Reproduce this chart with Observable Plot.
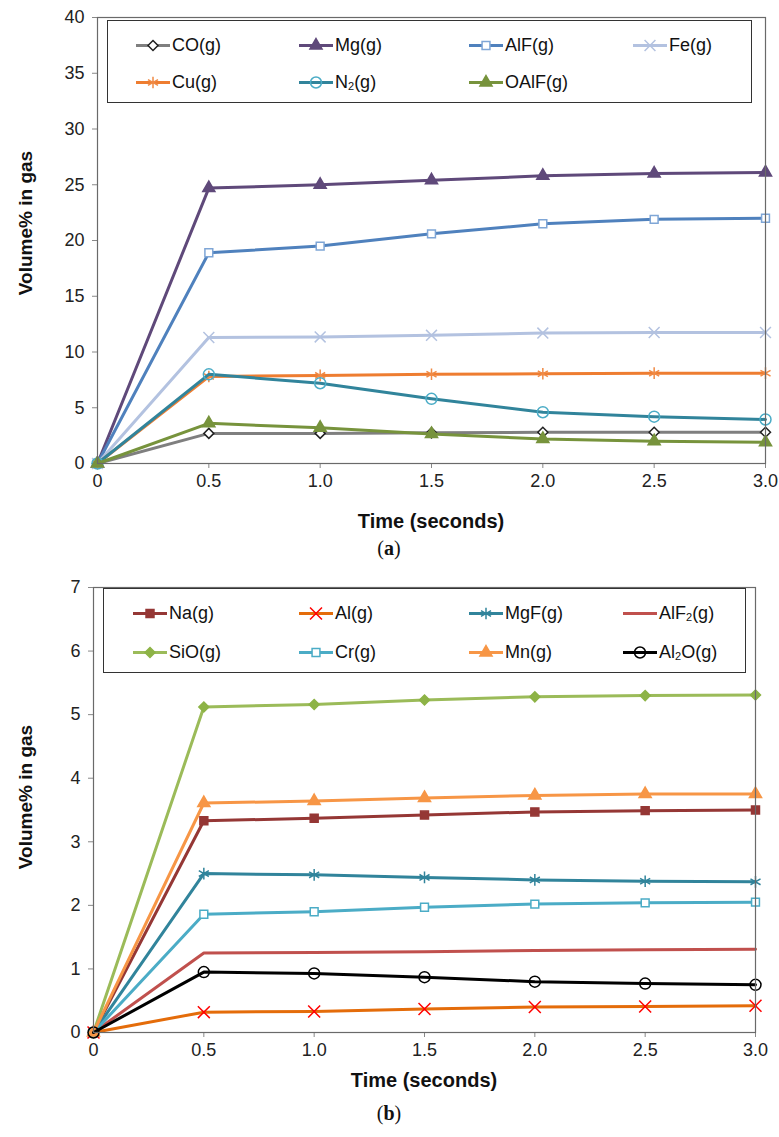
<!DOCTYPE html>
<html><head><meta charset="utf-8">
<script src="https://cdn.jsdelivr.net/npm/d3@7"></script>
<script src="https://cdn.jsdelivr.net/npm/@observablehq/plot@0.6"></script>
<style>
body{margin:0;background:#fff;font-family:"Liberation Sans",Arial,sans-serif;}
#page{position:relative;width:779px;height:1137px;overflow:hidden;background:#fff;}
.xt{position:absolute;font-weight:bold;font-size:20px;color:#111;transform:translate(-50%,-50%);white-space:nowrap;}
.yt{position:absolute;font-weight:bold;font-size:19px;color:#111;transform:translate(-50%,-50%) rotate(-90deg);white-space:nowrap;}
.cap{position:absolute;font-family:"Liberation Serif","DejaVu Serif",serif;font-size:20px;color:#111;transform:translate(-50%,-50%);}
.legend{position:absolute;border:1.5px solid #333;background:#fff;box-sizing:border-box;}
.item{position:absolute;display:flex;align-items:center;font-size:18px;color:#111;white-space:nowrap;transform:translateY(-50%);}
.item svg{margin-right:1px;}
sub{font-size:11px;vertical-align:-2px;}
svg.plot g[aria-label="x-axis tick"] path, svg.plot g[aria-label="y-axis tick"] path{stroke:#888;}
</style>
</head><body><div id="page"></div>
<script>
// ---------- data ----------
const times = [0, 0.5, 1.0, 1.5, 2.0, 2.5, 3.0];
const xTickLabels = ["0", "0.5", "1.0", "1.5", "2.0", "2.5", "3.0"];
const yTicksA = [0, 5, 10, 15, 20, 25, 30, 35, 40];
const yTicksB = [0, 1, 2, 3, 4, 5, 6, 7];

// chart (a)
const namesA = ["CO(g)", "Mg(g)", "AlF(g)", "Fe(g)", "Cu(g)", "N<sub>2</sub>(g)", "OAlF(g)"];
const CO   = [0, 2.7, 2.7, 2.75, 2.8, 2.8, 2.8];
const Mg   = [0, 24.7, 25.0, 25.4, 25.8, 26.0, 26.1];
const AlF  = [0, 18.9, 19.5, 20.6, 21.5, 21.9, 22.0];
const Fe   = [0, 11.3, 11.35, 11.5, 11.7, 11.75, 11.75];
const Cu   = [0, 7.8, 7.9, 8.0, 8.05, 8.1, 8.1];
const N2   = [0, 8.0, 7.2, 5.8, 4.6, 4.2, 3.95];
const OAlF = [0, 3.6, 3.2, 2.65, 2.2, 2.0, 1.9];

// chart (b)
const namesB = ["Na(g)", "Al(g)", "MgF(g)", "AlF<sub>2</sub>(g)", "SiO(g)", "Cr(g)", "Mn(g)", "Al<sub>2</sub>O(g)"];
const Na   = [0, 3.33, 3.37, 3.42, 3.47, 3.49, 3.50];
const Al   = [0, 0.32, 0.33, 0.37, 0.40, 0.41, 0.42];
const MgF  = [0, 2.50, 2.48, 2.44, 2.40, 2.38, 2.37];
const AlF2 = [0, 1.25, 1.26, 1.27, 1.29, 1.30, 1.31];
const SiO  = [0, 5.12, 5.16, 5.23, 5.28, 5.30, 5.31];
const Cr   = [0, 1.86, 1.90, 1.97, 2.02, 2.04, 2.05];
const Mn   = [0, 3.61, 3.64, 3.69, 3.73, 3.75, 3.75];
const Al2O = [0, 0.95, 0.93, 0.87, 0.80, 0.77, 0.75];

// ---------- styles ----------
const stylesA = [
  {line:"#7f7f7f", symbol:"diamond2", fill:"#fff", stroke:"#222", r:4.5},
  {line:"#5f497a", symbol:"triangle", fill:"#5f497a", stroke:"#5f497a", r:4.5},
  {line:"#4f81bd", symbol:"square2", fill:"#fff", stroke:"#7fa6d6", r:5},
  {line:"#b3c2e0", symbol:"times", fill:"none", stroke:"#b3c2e0", r:5},
  {line:"#ee7d31", symbol:"asterisk", fill:"none", stroke:"#f08a45", r:5.5},
  {line:"#31849b", symbol:"circle", fill:"none", stroke:"#4bacc6", r:5.5},
  {line:"#77933c", symbol:"triangle", fill:"#77933c", stroke:"#77933c", r:4.5}
];
const stylesB = [
  {line:"#953735", symbol:"square", fill:"#953735", stroke:"#953735", r:4.5},
  {line:"#e46c0a", symbol:"times", fill:"none", stroke:"#ff0000", r:5.5},
  {line:"#31849b", symbol:"asterisk", fill:"none", stroke:"#31849b", r:5.5},
  {line:"#c0504d", symbol:null},
  {line:"#9bbb59", symbol:"diamond2", fill:"#8db346", stroke:"#8db346", r:4.5},
  {line:"#4bacc6", symbol:"square2", fill:"#fff", stroke:"#4bacc6", r:5},
  {line:"#f79646", symbol:"triangle", fill:"#f79646", stroke:"#f79646", r:4.5},
  {line:"#000000", symbol:"circle", fill:"none", stroke:"#000", r:5.5}
];

const page = document.getElementById("page");

function makeChart({values, styles, yDomain, yTicks, top, height, ml, mr, mt, mb}) {
  const marks = [];
  values.forEach((vals, k) => {
    const s = styles[k];
    const rows = times.map((t, i) => ({t, v: vals[i]}));
    marks.push(Plot.line(rows, {x:"t", y:"v", stroke:s.line, strokeWidth:3}));
    if (s.symbol) marks.push(Plot.dot(rows, {x:"t", y:"v", symbol:s.symbol, r:s.r, fill:s.fill, stroke:s.stroke, strokeWidth:1.5}));
  });
  marks.push(Plot.frame({stroke:"#6a6a6a", strokeWidth:1.2}));
  const svg = Plot.plot({
    width: 779, height,
    marginLeft: ml, marginRight: mr, marginTop: mt, marginBottom: mb,
    style: {fontFamily:'"Liberation Sans", Arial, sans-serif', fontSize:"18px", color:"#222", background:"transparent", overflow:"visible"},
    x: {domain:[0, 3], ticks: times, tickFormat: d => xTickLabels[times.indexOf(d)], tickSize:5, tickPadding:6, label:null},
    y: {domain: yDomain, ticks: yTicks, tickFormat: d => String(d), tickSize:5, tickPadding:8, label:null},
    marks
  });
  svg.classList.add("plot");
  svg.style.position = "absolute";
  svg.style.left = "0px";
  svg.style.top = top + "px";
  page.appendChild(svg);
}

function swatch(s) {
  const ns = "http://www.w3.org/2000/svg";
  const svg = document.createElementNS(ns, "svg");
  svg.setAttribute("width", 36); svg.setAttribute("height", 20);
  const line = document.createElementNS(ns, "line");
  line.setAttribute("x1", 1); line.setAttribute("x2", 35); line.setAttribute("y1", 10); line.setAttribute("y2", 10);
  line.setAttribute("stroke", s.line); line.setAttribute("stroke-width", 3);
  svg.appendChild(line);
  if (s.symbol) {
    const map = {diamond2:d3.symbolDiamond2, triangle:d3.symbolTriangle, square2:d3.symbolSquare2, square:d3.symbolSquare,
                 times:d3.symbolTimes, asterisk:d3.symbolAsterisk, circle:d3.symbolCircle};
    const p = document.createElementNS(ns, "path");
    p.setAttribute("d", d3.symbol(map[s.symbol], Math.PI * s.r * s.r)());
    p.setAttribute("transform", "translate(18,10)");
    p.setAttribute("fill", s.fill); p.setAttribute("stroke", s.stroke); p.setAttribute("stroke-width", 1.5);
    svg.appendChild(p);
  }
  return svg;
}

function makeLegend({names, styles, box, cols, rows}) {
  const lg = document.createElement("div");
  lg.className = "legend";
  Object.assign(lg.style, {left:box[0]+"px", top:box[1]+"px", width:box[2]+"px", height:box[3]+"px"});
  page.appendChild(lg);
  names.forEach((n, i) => {
    const it = document.createElement("div");
    it.className = "item";
    it.style.left = cols[i % 4] + "px";
    it.style.top = rows[Math.floor(i / 4)] + "px";
    it.appendChild(swatch(styles[i]));
    const sp = document.createElement("span");
    sp.innerHTML = n;
    it.appendChild(sp);
    page.appendChild(it);
  });
}

function addText(cls, html, x, y) {
  const d = document.createElement("div");
  d.className = cls; d.innerHTML = html;
  d.style.left = x + "px"; d.style.top = y + "px";
  page.appendChild(d);
}

// chart (a)
makeChart({values:[CO, Mg, AlF, Fe, Cu, N2, OAlF], styles:stylesA, yDomain:[0, 40], yTicks:yTicksA,
  top:0, height:500, ml:97, mr:14, mt:17, mb:37});
makeLegend({names:namesA, styles:stylesA, box:[107, 20, 645, 83], cols:[135, 298, 468, 632], rows:[45, 82]});
addText("xt", "Time (seconds)", 431, 521);
addText("yt", "Volume% in gas", 26, 223);
addText("cap", "(<b>a</b>)", 389, 548);

// chart (b)
makeChart({values:[Na, Al, MgF, AlF2, SiO, Cr, Mn, Al2O], styles:stylesB, yDomain:[0, 7], yTicks:yTicksB,
  top:570, height:499, ml:93, mr:24, mt:17, mb:37});
makeLegend({names:namesB, styles:stylesB, box:[103, 588, 643, 85], cols:[132, 298, 468, 622], rows:[613, 652]});
addText("xt", "Time (seconds)", 424, 1080);
addText("yt", "Volume% in gas", 26, 797);
addText("cap", "(<b>b</b>)", 389, 1113);
</script></body></html>
